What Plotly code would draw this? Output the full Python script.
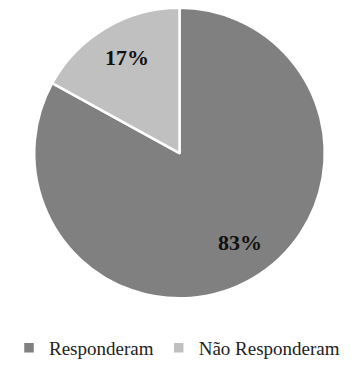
import math
import plotly.graph_objects as go

categories = ["Responderam", "Não Responderam"]
values = [83, 17]
labels_text = ["83%", "17%"]
colors = ["#808080", "#c0c0c0"]

W, H = 354, 367
cx, cy, R = 179.5, 156.5, 148.5
SERIF = "Times New Roman, Liberation Serif, DejaVu Serif, serif"

fig = go.Figure(go.Pie(
    labels=categories,
    values=values,
    sort=False,
    direction="clockwise",
    rotation=0,
    marker=dict(colors=colors, line=dict(color="white", width=2.5)),
    textinfo="none",
    hoverinfo="label+percent",
    domain=dict(x=[(cx - R) / W, (cx + R) / W], y=[1 - (cy + R) / H, 1 - (cy - R) / H]),
))

# label positions derived from slice mid-angles
lx, ly, lr = 179.5, 153.5, 145
total = sum(values)
start = 90.0
anns = []
for v, t in zip(values, labels_text):
    sweep = 360.0 * v / total
    mid = math.radians(start - sweep / 2)
    start -= sweep
    px = lx + 0.76 * lr * math.cos(mid) + 4
    py = ly - 0.76 * lr * math.sin(mid)
    anns.append(dict(x=px / W, y=1 - py / H, xref="paper", yref="paper",
                     xanchor="center", yanchor="middle",
                     text=f"<b>{t}</b>", showarrow=False,
                     font=dict(family=SERIF, size=22, color="#111111")))

fig.update_layout(
    width=W, height=H,
    margin=dict(l=0, r=0, t=0, b=0),
    paper_bgcolor="white",
    plot_bgcolor="white",
    annotations=anns,
    showlegend=True,
    font=dict(family=SERIF),
    legend=dict(orientation="h", x=0.5, xanchor="center", y=1 - 356 / H, yanchor="middle",
                font=dict(family=SERIF, size=19, color="#222222"),
                itemwidth=30, tracegroupgap=0),
)
fig.write_html("out.html")
